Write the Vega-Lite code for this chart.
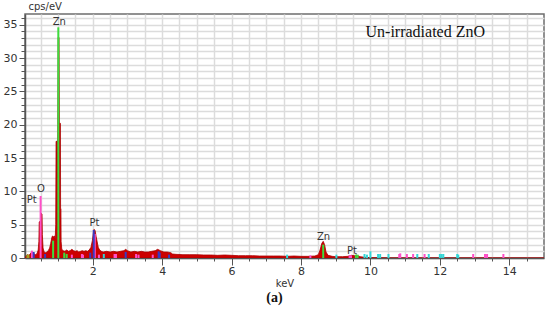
{
  "$schema": "https://vega.github.io/schema/vega-lite/v6.json",
  "width": 519,
  "height": 244,
  "autosize": "none",
  "padding": {"left": 25, "top": 14, "right": 6, "bottom": 53},
  "background": "white",
  "config": {
    "view": {"stroke": "#6e6e6e", "strokeWidth": 1.5},
    "axis": {
      "labelFont": "DejaVu Sans", "labelFontSize": 11, "labelColor": "#333333",
      "titleFont": "DejaVu Sans", "titleFontSize": 10, "titleFontWeight": "normal", "titleColor": "#333333",
      "domainColor": "#555555", "domainWidth": 1.5, "tickColor": "#555555", "tickWidth": 1,
      "gridColor": "#dcdcdc", "gridWidth": 1.5
    }
  },
  "title": {"text": "(a)", "orient": "bottom", "font": "Liberation Serif", "fontSize": 14, "fontWeight": "bold", "color": "#111111", "dx": -10, "offset": 3},
  "datasets": {
    "red": [
      {"keV": 0.06, "cps": 0}, {"keV": 0.08, "cps": 0.3}, {"keV": 0.12, "cps": 0.5}, {"keV": 0.16, "cps": 0.4},
      {"keV": 0.2, "cps": 0.6}, {"keV": 0.24, "cps": 0.9}, {"keV": 0.28, "cps": 0.7}, {"keV": 0.32, "cps": 0.6},
      {"keV": 0.36, "cps": 0.5}, {"keV": 0.4, "cps": 0.7}, {"keV": 0.43, "cps": 1.2}, {"keV": 0.45, "cps": 2.5},
      {"keV": 0.46, "cps": 5.4}, {"keV": 0.48, "cps": 5.5}, {"keV": 0.5, "cps": 4.5}, {"keV": 0.52, "cps": 6.7},
      {"keV": 0.54, "cps": 6.6}, {"keV": 0.55, "cps": 3.5}, {"keV": 0.57, "cps": 1.5}, {"keV": 0.6, "cps": 0.9},
      {"keV": 0.64, "cps": 0.8}, {"keV": 0.68, "cps": 0.9}, {"keV": 0.72, "cps": 1.1}, {"keV": 0.76, "cps": 1.5},
      {"keV": 0.79, "cps": 2.2}, {"keV": 0.82, "cps": 3.0}, {"keV": 0.84, "cps": 3.3}, {"keV": 0.87, "cps": 3.2},
      {"keV": 0.9, "cps": 3.3}, {"keV": 0.92, "cps": 2.8}, {"keV": 0.935, "cps": 5}, {"keV": 0.945, "cps": 17.5},
      {"keV": 0.975, "cps": 17.5}, {"keV": 0.985, "cps": 12}, {"keV": 0.995, "cps": 20}, {"keV": 1.005, "cps": 33.1},
      {"keV": 1.03, "cps": 33.1}, {"keV": 1.04, "cps": 20.2}, {"keV": 1.07, "cps": 20.2}, {"keV": 1.075, "cps": 7.4},
      {"keV": 1.085, "cps": 7.4}, {"keV": 1.09, "cps": 2.5}, {"keV": 1.11, "cps": 1.3}, {"keV": 1.15, "cps": 1.1},
      {"keV": 1.2, "cps": 1.0}, {"keV": 1.25, "cps": 1.2}, {"keV": 1.3, "cps": 1.0}, {"keV": 1.35, "cps": 1.1},
      {"keV": 1.4, "cps": 1.3}, {"keV": 1.45, "cps": 1.1}, {"keV": 1.5, "cps": 1.0}, {"keV": 1.55, "cps": 1.1},
      {"keV": 1.6, "cps": 0.9}, {"keV": 1.65, "cps": 1.0}, {"keV": 1.7, "cps": 1.1}, {"keV": 1.75, "cps": 1.0},
      {"keV": 1.8, "cps": 1.1}, {"keV": 1.85, "cps": 1.0}, {"keV": 1.9, "cps": 1.2}, {"keV": 1.95, "cps": 1.6},
      {"keV": 1.99, "cps": 2.6}, {"keV": 2.02, "cps": 3.8}, {"keV": 2.04, "cps": 4.3}, {"keV": 2.07, "cps": 4.1},
      {"keV": 2.1, "cps": 3.2}, {"keV": 2.13, "cps": 2.4}, {"keV": 2.16, "cps": 1.6}, {"keV": 2.2, "cps": 1.2},
      {"keV": 2.25, "cps": 1.0}, {"keV": 2.3, "cps": 0.9}, {"keV": 2.4, "cps": 1.0}, {"keV": 2.5, "cps": 0.9},
      {"keV": 2.6, "cps": 1.0}, {"keV": 2.7, "cps": 0.9}, {"keV": 2.8, "cps": 1.0}, {"keV": 2.9, "cps": 1.1},
      {"keV": 2.95, "cps": 1.3}, {"keV": 3.0, "cps": 1.1}, {"keV": 3.1, "cps": 0.9}, {"keV": 3.2, "cps": 1.0},
      {"keV": 3.3, "cps": 0.9}, {"keV": 3.4, "cps": 1.0}, {"keV": 3.5, "cps": 0.9}, {"keV": 3.6, "cps": 0.9},
      {"keV": 3.7, "cps": 1.0}, {"keV": 3.8, "cps": 1.1}, {"keV": 3.87, "cps": 1.3}, {"keV": 3.95, "cps": 1.1},
      {"keV": 4.05, "cps": 0.9}, {"keV": 4.15, "cps": 0.9}, {"keV": 4.25, "cps": 0.8}, {"keV": 4.3, "cps": 0.6},
      {"keV": 4.4, "cps": 0.55}, {"keV": 4.6, "cps": 0.5}, {"keV": 4.8, "cps": 0.5}, {"keV": 5.0, "cps": 0.5},
      {"keV": 5.2, "cps": 0.45}, {"keV": 5.4, "cps": 0.45}, {"keV": 5.6, "cps": 0.4}, {"keV": 5.8, "cps": 0.45},
      {"keV": 6.0, "cps": 0.4}, {"keV": 6.2, "cps": 0.35}, {"keV": 6.4, "cps": 0.35}, {"keV": 6.6, "cps": 0.35},
      {"keV": 6.8, "cps": 0.3}, {"keV": 7.0, "cps": 0.3}, {"keV": 7.2, "cps": 0.3}, {"keV": 7.4, "cps": 0.3},
      {"keV": 7.6, "cps": 0.25}, {"keV": 7.8, "cps": 0.3}, {"keV": 8.0, "cps": 0.25}, {"keV": 8.2, "cps": 0.25},
      {"keV": 8.4, "cps": 0.3}, {"keV": 8.5, "cps": 0.5}, {"keV": 8.55, "cps": 1.2}, {"keV": 8.6, "cps": 2.2},
      {"keV": 8.64, "cps": 2.5}, {"keV": 8.68, "cps": 2.0}, {"keV": 8.72, "cps": 0.9}, {"keV": 8.78, "cps": 0.4},
      {"keV": 8.9, "cps": 0.25}, {"keV": 9.0, "cps": 0.2}, {"keV": 9.2, "cps": 0.2}, {"keV": 9.35, "cps": 0.25},
      {"keV": 9.45, "cps": 0.4}, {"keV": 9.55, "cps": 0.35}, {"keV": 9.6, "cps": 0.45}, {"keV": 9.7, "cps": 0.2},
      {"keV": 9.85, "cps": 0.1}, {"keV": 10.0, "cps": 0.05}, {"keV": 10.5, "cps": 0}, {"keV": 15, "cps": 0}
    ],
    "spikes": [
      {"series": "green", "keV": 1.01, "cps": 34.6}, {"series": "green", "keV": 0.86, "cps": 2.6},
      {"series": "green", "keV": 1.18, "cps": 0.8}, {"series": "green", "keV": 1.25, "cps": 0.6},
      {"series": "green", "keV": 8.64, "cps": 2.0}, {"series": "green", "keV": 9.58, "cps": 0.5},
      {"series": "green", "keV": 9.63, "cps": 0.5},
      {"series": "magenta", "keV": 0.5, "cps": 9.3}, {"series": "magenta", "keV": 0.25, "cps": 1.1},
      {"series": "magenta", "keV": 0.27, "cps": 0.9}, {"series": "magenta", "keV": 1.4, "cps": 0.5},
      {"series": "magenta", "keV": 1.69, "cps": 0.6}, {"series": "magenta", "keV": 1.72, "cps": 0.5},
      {"series": "magenta", "keV": 2.06, "cps": 3.6}, {"series": "magenta", "keV": 2.18, "cps": 0.5},
      {"series": "magenta", "keV": 2.63, "cps": 0.6}, {"series": "magenta", "keV": 2.67, "cps": 0.6},
      {"series": "magenta", "keV": 3.25, "cps": 0.6}, {"series": "magenta", "keV": 3.32, "cps": 0.5},
      {"series": "magenta", "keV": 3.73, "cps": 0.5}, {"series": "magenta", "keV": 8.27, "cps": 0.4},
      {"series": "magenta", "keV": 9.4, "cps": 0.4}, {"series": "magenta", "keV": 9.44, "cps": 0.4},
      {"series": "magenta", "keV": 10.83, "cps": 0.6}, {"series": "magenta", "keV": 10.86, "cps": 0.7},
      {"series": "magenta", "keV": 11.05, "cps": 0.6}, {"series": "magenta", "keV": 11.23, "cps": 0.6},
      {"series": "magenta", "keV": 11.56, "cps": 0.6}, {"series": "magenta", "keV": 12.96, "cps": 0.6},
      {"series": "magenta", "keV": 13.3, "cps": 0.6}, {"series": "magenta", "keV": 13.36, "cps": 0.6},
      {"series": "magenta", "keV": 13.83, "cps": 0.6},
      {"series": "blue", "keV": 0.3, "cps": 0.9}, {"series": "blue", "keV": 0.63, "cps": 0.6},
      {"series": "blue", "keV": 1.93, "cps": 0.8}, {"series": "blue", "keV": 2.03, "cps": 4.2},
      {"series": "blue", "keV": 2.95, "cps": 0.9}, {"series": "blue", "keV": 3.9, "cps": 1.0},
      {"series": "blue", "keV": 3.93, "cps": 0.8}, {"series": "blue", "keV": 4.2, "cps": 0.5},
      {"series": "cyan", "keV": 2.32, "cps": 0.6}, {"series": "cyan", "keV": 7.6, "cps": 0.5},
      {"series": "cyan", "keV": 9.02, "cps": 0.5}, {"series": "cyan", "keV": 9.83, "cps": 0.6},
      {"series": "cyan", "keV": 9.9, "cps": 0.5}, {"series": "cyan", "keV": 10.0, "cps": 1.0},
      {"series": "cyan", "keV": 10.22, "cps": 0.6}, {"series": "cyan", "keV": 10.28, "cps": 0.6},
      {"series": "cyan", "keV": 10.52, "cps": 0.6}, {"series": "cyan", "keV": 11.35, "cps": 0.6},
      {"series": "cyan", "keV": 11.68, "cps": 0.6}, {"series": "cyan", "keV": 12.0, "cps": 0.6},
      {"series": "cyan", "keV": 12.05, "cps": 0.6}, {"series": "cyan", "keV": 12.1, "cps": 0.6},
      {"series": "cyan", "keV": 12.5, "cps": 0.6}, {"series": "cyan", "keV": 12.53, "cps": 0.5},
      {"series": "olive", "keV": 0.12, "cps": 0.5}, {"series": "olive", "keV": 0.15, "cps": 0.5}
    ],
    "labels": [
      {"keV": 1.036, "cps": 34.95, "label": "Zn"},
      {"keV": 0.511, "cps": 9.85, "label": "O"},
      {"keV": 0.243, "cps": 8.3, "label": "Pt"},
      {"keV": 2.053, "cps": 4.85, "label": "Pt"},
      {"keV": 8.65, "cps": 2.7, "label": "Zn"},
      {"keV": 9.47, "cps": 0.6, "label": "Pt"}
    ],
    "note": [
      {"keV": 11.58, "cps": 33.08, "label": "Un-irradiated ZnO"}
    ]
  },
  "encoding": {
    "x": {
      "field": "keV", "type": "quantitative",
      "scale": {"domain": [0.05, 15], "nice": false, "zero": false},
      "axis": {
        "title": "keV", "titlePadding": 2,
        "values": [0.5,1,1.5,2,2.5,3,3.5,4,4.5,5,5.5,6,6.5,7,7.5,8,8.5,9,9.5,10,10.5,11,11.5,12,12.5,13,13.5,14,14.5],
        "labelExpr": "datum.value % 2 === 0 ? format(datum.value, 'd') : ''",
        "tickSize": {"condition": {"test": "datum.value % 2 === 0", "value": 7}, "value": 3},
        "labelPadding": 0, "grid": true
      }
    },
    "y": {
      "field": "cps", "type": "quantitative",
      "scale": {"domain": [0, 36.6], "nice": false},
      "axis": {
        "title": "cps/eV", "titleAngle": 0, "titleAlign": "left", "titleBaseline": "bottom",
        "titleX": 3, "titleY": -3,
        "values": [0,1,2,3,4,5,6,7,8,9,10,11,12,13,14,15,16,17,18,19,20,21,22,23,24,25,26,27,28,29,30,31,32,33,34,35,36],
        "labelExpr": "datum.value % 5 === 0 ? format(datum.value, 'd') : ''",
        "tickSize": {"condition": {"test": "datum.value % 5 === 0", "value": 6}, "value": 4},
        "labelPadding": 2, "grid": true
      }
    }
  },
  "layer": [
    {
      "data": {"name": "red"},
      "mark": {"type": "area", "color": "#cc0000", "stroke": "#aa0000", "strokeWidth": 0.8, "interpolate": "linear", "clip": true}
    },
    {
      "data": {"name": "spikes"},
      "mark": {"type": "rule", "strokeWidth": 2, "clip": true},
      "encoding": {
        "y2": {"datum": 0},
        "color": {
          "field": "series", "type": "nominal", "legend": null,
          "scale": {"domain": ["green", "magenta", "blue", "cyan", "olive"], "range": ["#3ddc3d", "#ff4fc8", "#3a3ac0", "#33d6d6", "#a0a020"]}
        }
      }
    },
    {
      "data": {"name": "labels"},
      "mark": {"type": "text", "font": "DejaVu Sans", "fontSize": 10, "color": "#333333", "align": "center", "baseline": "alphabetic"},
      "encoding": {"text": {"field": "label"}}
    },
    {
      "data": {"name": "note"},
      "mark": {"type": "text", "font": "Liberation Serif", "fontSize": 16, "color": "#111111", "align": "center", "baseline": "alphabetic"},
      "encoding": {"text": {"field": "label"}}
    }
  ]
}
